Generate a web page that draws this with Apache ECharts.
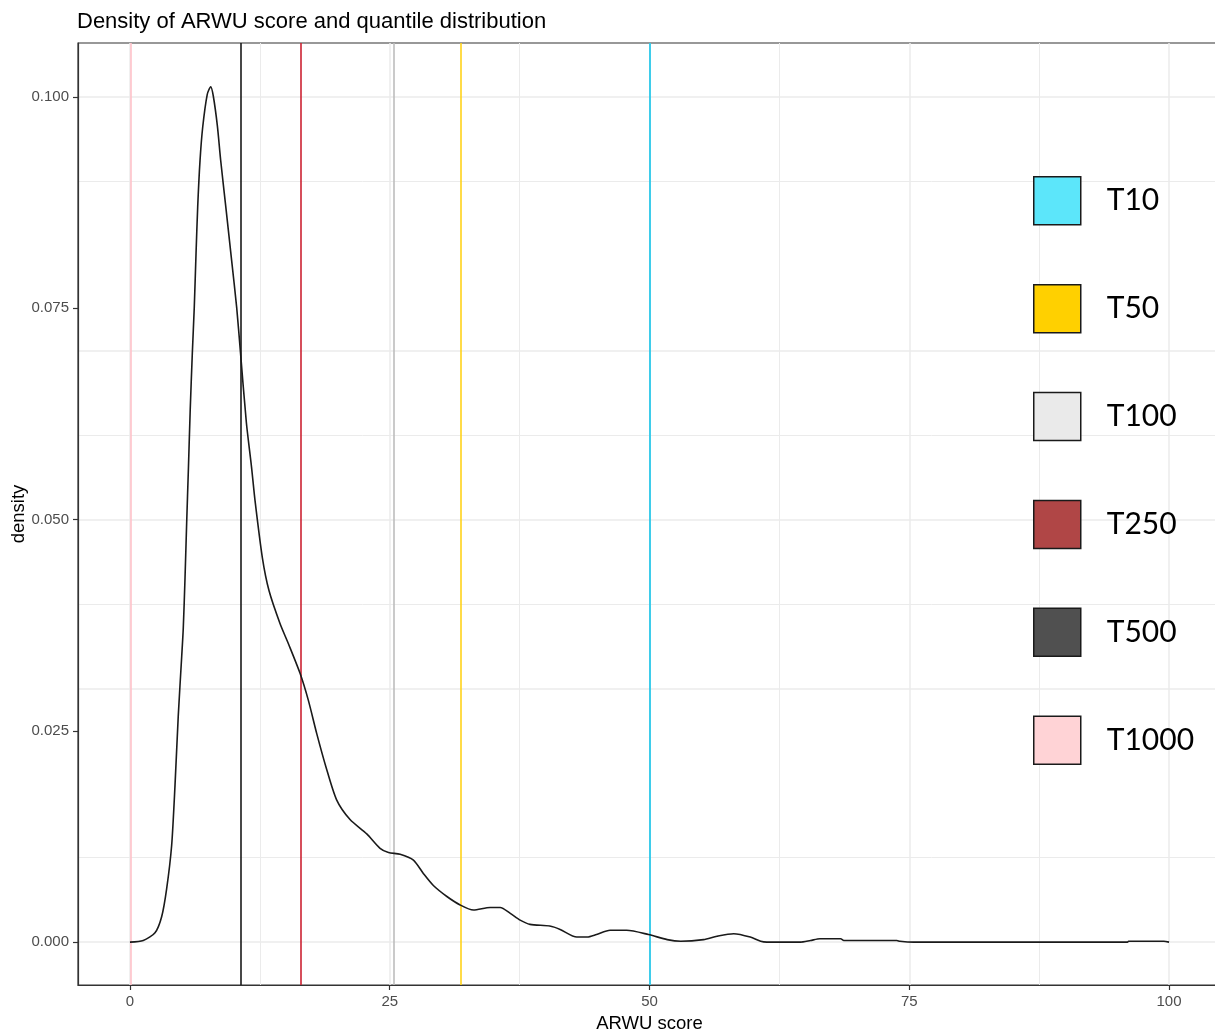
<!DOCTYPE html>
<html>
<head>
<meta charset="utf-8">
<script src="https://cdn.jsdelivr.net/npm/echarts@6/dist/echarts.min.js"></script>
<style>
html,body{margin:0;padding:0;background:#fff;}
#c{width:1215px;height:1031px;}
</style>
</head>
<body>
<div id="c"></div>
<script>
// ---- data ----
const scoreX = [0, 1.28, 2.41, 3.05, 3.53, 4.01, 4.33, 4.65, 4.98, 5.13, 5.3, 5.46, 5.62, 5.8, 6.0, 6.19, 6.36, 6.52, 6.74, 7.0, 7.44, 7.77, 8.02, 8.41, 8.73, 9.24, 9.79, 10.27, 10.62, 11.2, 11.7, 12.04, 12.74, 13.38, 14.44, 15.25, 16.37, 17.17, 17.97, 18.87, 19.9, 21.18, 22.79, 24.07, 24.88, 26.0, 27.28, 28.25, 29.2, 30.5, 31.78, 33.06, 34.66, 35.63, 36.6, 37.55, 38.5, 40.4, 41.4, 43.0, 44.0, 44.9, 46.2, 47.8, 49.9, 51.7, 53.0, 55.2, 56.5, 58.1, 59.7, 60.7, 61.3, 64.5, 65.5, 66.4, 68.4, 68.7, 73.8, 74.1, 75.4, 96.0, 96.1, 99.5, 100];
const densityY = [0, 0.0002, 0.0011, 0.003, 0.0063, 0.0114, 0.0184, 0.0268, 0.0338, 0.0371, 0.0431, 0.0497, 0.0558, 0.0630, 0.0696, 0.0751, 0.0815, 0.0870, 0.0924, 0.0964, 0.1003, 0.1012, 0.1001, 0.0966, 0.0925, 0.0868, 0.0806, 0.0751, 0.0700, 0.0615, 0.0562, 0.0522, 0.0455, 0.0416, 0.0377, 0.0353, 0.0318, 0.0286, 0.0247, 0.0207, 0.0168, 0.0145, 0.0128, 0.0111, 0.0106, 0.0104, 0.0097, 0.0081, 0.0067, 0.0054, 0.0044, 0.0038, 0.0041, 0.0041, 0.0034, 0.0026, 0.0021, 0.0019, 0.0015, 0.0006, 0.0006, 0.0009, 0.0014, 0.0014, 0.0009, 0.0003, 0.0001, 0.0003, 0.0007, 0.001, 0.0006, 0.0001, 0, 0, 0.0002, 0.0004, 0.0004, 0.0002, 0.0002, 0.0001, 0, 0, 0.0001, 0.0001, 0];

const quantNames = ["T10", "T50", "T100", "T250", "T500", "T1000"];
const quantValues = [49.98, 31.87, 25.39, 16.44, 10.66, 0.05];
const quantLineColors = ["#12C4EA", "#FFD21A", "#BDBDBD", "#CC2233", "#1A1A1A", "#FFC2CA"];
const quantFillColors = ["#5CE6FA", "#FFD000", "#EAEAEA", "#B04646", "#505050", "#FFD3D6"];

const xTicks = [0, 25, 50, 75, 100];
const xMinorGrid = [12.5, 37.5, 62.5, 87.5];
const yTicks = [0, 0.025, 0.05, 0.075, 0.1];
const yMinorGrid = [0.0125, 0.0375, 0.0625, 0.0875];

// ---- chart ----
const chart = echarts.init(document.getElementById('c'), null, {renderer: 'canvas'});
const densityData = scoreX.map((x, i) => [x, densityY[i]]);

const gridMark = [];
xTicks.forEach(v => gridMark.push({xAxis: v, lineStyle: {width: 1.5}}));
xMinorGrid.forEach(v => gridMark.push({xAxis: v, lineStyle: {width: 1}}));
yTicks.forEach(v => gridMark.push({yAxis: v, lineStyle: {width: 1.5}}));
yMinorGrid.forEach(v => gridMark.push({yAxis: v, lineStyle: {width: 1}}));

const series = [
  {
    name: '__grid', type: 'line', data: [], silent: true, z: 0,
    markLine: {
      silent: true, z: 0, symbol: ['none', 'none'], label: {show: false},
      lineStyle: {color: '#EBEBEB', type: 'solid'},
      emphasis: {disabled: true},
      animation: false,
      data: gridMark
    }
  },
  {
    name: 'density', type: 'line', data: densityData, smooth: 0.25,
    showSymbol: false, symbol: 'none', z: 10,
    lineStyle: {color: '#1A1A1A', width: 1.6},
    itemStyle: {color: '#1A1A1A'}
  }
];
quantNames.forEach((n, i) => {
  series.push({
    name: n, type: 'line', data: [], z: 2,
    itemStyle: {color: quantFillColors[i]},
    lineStyle: {color: quantLineColors[i]},
    markLine: {
      silent: true, z: 2, symbol: ['none', 'none'], label: {show: false},
      animation: false,
      emphasis: {disabled: true},
      lineStyle: {color: quantLineColors[i], width: 1.6, type: 'solid'},
      data: [{xAxis: quantValues[i]}]
    }
  });
});

chart.setOption({
  animation: false,
  backgroundColor: '#ffffff',
  title: {
    text: 'Density of ARWU score and quantile distribution',
    left: 77, top: 11, padding: 0,
    textStyle: {fontFamily: 'Liberation Sans, Arial, sans-serif', fontSize: 22, fontWeight: 'normal', color: '#000'}
  },
  grid: {
    left: 78, top: 43, width: 1143, height: 942,
    show: true, borderColor: '#333333', borderWidth: 1.2, backgroundColor: 'transparent',
    containLabel: false, outerBoundsMode: 'none'
  },
  legend: {
    orient: 'vertical', left: 1033, top: 176, padding: 0,
    icon: 'rect', itemWidth: 47, itemHeight: 48, itemGap: 58.4,
    selectedMode: false,
    itemStyle: {borderColor: '#1A1A1A', borderWidth: 1.5},
    textStyle: {fontFamily: 'Lato, Carlito, sans-serif', fontSize: 30, color: '#000', padding: [0, 0, 0, 21]},
    data: quantNames.map((n, i) => ({name: n, itemStyle: {color: quantFillColors[i], borderColor: '#1A1A1A', borderWidth: 1.5}}))
  },
  xAxis: {
    type: 'value', min: -5, max: 105,
    name: 'ARWU score', nameLocation: 'middle', nameGap: 29, nameMoveOverlap: false,
    nameTextStyle: {fontFamily: 'Liberation Sans, Arial, sans-serif', fontSize: 18.5, color: '#000'},
    axisLine: {show: true, onZero: false, lineStyle: {color: '#333333', width: 1.2}},
    axisTick: {show: true, length: 5, customValues: xTicks, lineStyle: {color: '#333333', width: 1.2}},
    axisLabel: {customValues: xTicks, margin: 9, fontFamily: 'Liberation Sans, Arial, sans-serif', fontSize: 15, color: '#4D4D4D'},
    splitLine: {show: false}
  },
  yAxis: {
    type: 'value', min: -0.00507, max: 0.10637,
    name: 'density', nameLocation: 'middle', nameGap: 50, nameRotate: 90, nameMoveOverlap: false,
    nameTextStyle: {fontFamily: 'Liberation Sans, Arial, sans-serif', fontSize: 18.5, color: '#000'},
    axisLine: {show: true, onZero: false, lineStyle: {color: '#333333', width: 1.2}},
    axisTick: {show: true, length: 5, customValues: yTicks, lineStyle: {color: '#333333', width: 1.2}},
    axisLabel: {customValues: yTicks, margin: 9, fontFamily: 'Liberation Sans, Arial, sans-serif', fontSize: 15, color: '#4D4D4D',
      formatter: v => v.toFixed(3)},
    splitLine: {show: false}
  },
  series: series
});
</script>
</body>
</html>
